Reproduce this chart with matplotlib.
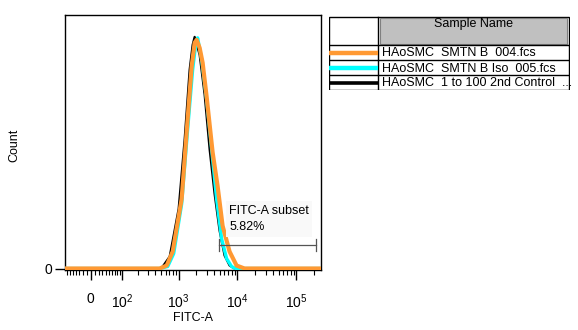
import numpy as np
import matplotlib
matplotlib.use("Agg")
import matplotlib.pyplot as plt
from matplotlib.patches import Rectangle

plt.rcParams['font.family'] = ['Liberation Sans', 'DejaVu Sans']
plt.rcParams['mathtext.fontset'] = 'custom'
plt.rcParams['mathtext.rm'] = 'Liberation Sans'
plt.rcParams['font.size'] = 9

# histogram data (FITC-A value, count)
orange_x = [-77, 476, 627, 794, 1129, 1372, 1668, 1876, 2029, 2280, 2564, 2996, 3787, 4601, 5596, 7355, 9665, 13205, 262144]
orange_y = [0, 0, 3, 17, 70, 137, 203, 227, 230, 222, 207, 173, 117, 83, 43, 17, 3, 0, 0]

cyan_x = [-77, 476, 653, 826, 1129, 1427, 1735, 1951, 2109, 2466, 2996, 3642, 4425, 5380, 6544, 7952, 9294, 262144]
cyan_y = [0, 0, 2, 15, 65, 140, 200, 225, 232, 210, 170, 120, 70, 30, 10, 2, 0, 0]

black_x = [-77, 476, 536, 706, 1003, 1269, 1543, 1735, 1876, 2280, 2771, 3368, 4093, 4975, 6050, 7355, 8938, 262144]
black_y = [0, 0, 2, 12, 60, 130, 200, 225, 233, 215, 175, 120, 75, 38, 13, 3, 0, 0]

sample_names = ["HAoSMC  SMTN B  004.fcs",
                "HAoSMC  SMTN B Iso  005.fcs",
                "HAoSMC  1 to 100 2nd Control  ..."]
colors = ['#FF9933', '#00FFFF', '#000000']

gate_lo, gate_hi, gate_level = 4780, 219000, 24
gate_text = "FITC-A subset\n5.82%"

major_ticks = [0, 100, 1000, 10000, 100000]
major_labels = ['0', r'$\mathregular{10^{2}}$', r'$\mathregular{10^{3}}$',
                r'$\mathregular{10^{4}}$', r'$\mathregular{10^{5}}$']


def fwd(x):
    return np.arcsinh(np.asarray(x, dtype=float) / 64.8) / np.log(10)


def inv(y):
    return 64.8 * np.sinh(np.asarray(y, dtype=float) * np.log(10))


fig = plt.figure(figsize=(5.78, 3.30), dpi=100)
ax = fig.add_axes([65/578, 1-270/330, 256/578, 255/330])
ax.set_xscale('function', functions=(fwd, inv))

ax.plot(black_x, black_y, color=colors[2], lw=1.6, zorder=2)
ax.plot(cyan_x, cyan_y, color=colors[1], lw=2.4, zorder=3)
ax.plot(orange_x, orange_y, color=colors[0], lw=3.0, zorder=4)

# gate
ax.plot([gate_lo, gate_hi], [gate_level, gate_level], color='#555555', lw=0.9, zorder=5)
for gx in (gate_lo, gate_hi):
    ax.plot([gx, gx], [gate_level - 6, gate_level + 6], color='#555555', lw=0.9, zorder=5)
ax.text(0.641, 0.255, gate_text, transform=ax.transAxes, ha='left', va='top',
        fontsize=9, linespacing=1.45, zorder=6,
        bbox=dict(facecolor='#f9f9f9', edgecolor='none', pad=2.5))

ax.set_xlim(-77, 262144)
ax.set_ylim(-1.5, 255)

ax.set_xticks(major_ticks)
ax.set_xticklabels(major_labels, fontsize=10)
minor = list(range(-70, 0, 10)) + list(range(10, 100, 10))
for d in (100, 1000, 10000, 100000):
    minor += [d * k for k in range(2, 10) if d * k < 262144]
ax.set_xticks(minor, minor=True)
ax.tick_params(axis='x', which='major', length=7, width=1, pad=9)
ax.tick_params(axis='x', which='minor', length=3.5, width=0.8)

ax.set_yticks([0])
ax.set_yticklabels(['0'], fontsize=10)
ax.tick_params(axis='y', which='major', length=7, width=1, pad=2)

for s in ax.spines.values():
    s.set_linewidth(1.0)

ax.set_xlabel('FITC-A', labelpad=1)
ax.set_ylabel('Count')
ax.yaxis.set_label_coords(-0.176, 0.49)

# legend table
lax = fig.add_axes([329/578, 1-90/330, 241/578, 74/330])
lax.set_xlim(0, 241)
lax.set_ylim(74, 0)
lax.axis('off')
lax.add_patch(Rectangle((0.5, 0.5), 239, 73, fill=False, edgecolor='black', lw=1.0))
lax.plot([49.5, 49.5], [0.5, 73.5], color='black', lw=1.0)
lax.add_patch(Rectangle((51, 1.5), 187, 26, facecolor='#c0c0c0', edgecolor='#808080', lw=0.8))
lax.text(144, 7.5, 'Sample Name', ha='center', va='center', fontsize=9)
for yy in (29, 44, 59):
    lax.plot([0.5, 239.5], [yy, yy], color='black', lw=1.0)
for i, (name, c) in enumerate(zip(sample_names, colors)):
    yc = 37 + 15 * i
    lax.plot([0.5, 49.5], [yc, yc], color=c, lw=3.2 if i < 2 else 2.6, solid_capstyle='butt')
    lax.text(53, yc + 0.5, name, ha='left', va='center', fontsize=9)

fig.savefig('out.png', dpi=100)
